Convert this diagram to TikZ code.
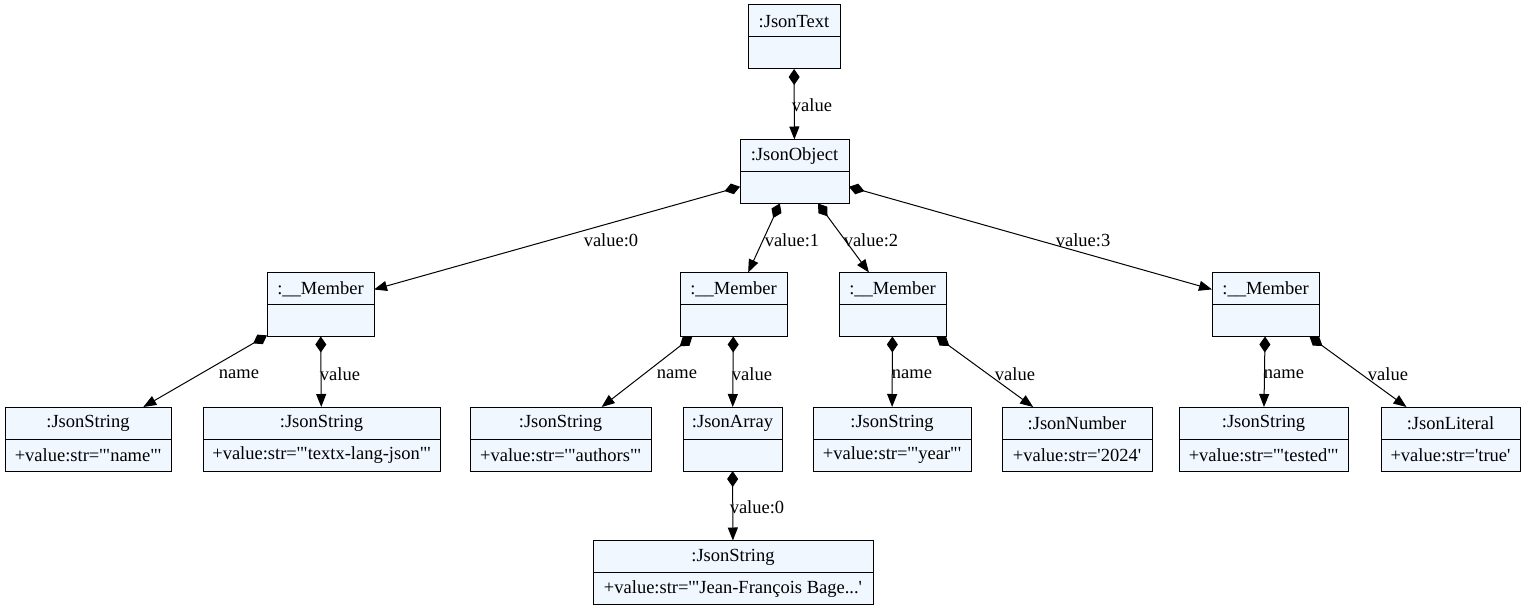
\documentclass[tikz,border=0pt]{standalone}
\usepackage{fontspec}
\setmainfont{Liberation Serif}
\newfontfamily\qfont[Ligatures=TeXOff]{Liberation Serif}
\usetikzlibrary{arrows.meta,calc}
\definecolor{boxfill}{HTML}{F0F7FF}
\tikzset{
  objbox/.style={draw=black, fill=boxfill, line width=1pt, minimum height=64pt, inner sep=0pt, outer sep=0pt},
  divline/.style={draw=black, line width=1pt},
  objtext/.style={inner sep=0pt, font=\rmfamily\fontsize{18.5}{22}\selectfont},
  lbl/.style={inner sep=1pt, font=\rmfamily\fontsize{18.5}{22}\selectfont},
  comp/.style={line width=1pt, {Diamond[length=16pt,width=11pt]}-{Triangle[length=13pt,width=10pt]}},
}
\newcommand\umlobj[6]{%
  \node[objbox, minimum width=#4pt] (#1) at (#2,#3) {};
  \draw[divline] (#1.west) -- (#1.east);
  \node[objtext] (#1-t) at ($(#1.north)+(0,16.5)$) {#5};
  \node[objtext] (#1-a) at ($(#1.south)-(0,15.5)$) {#6};
}
\newcommand\sq{{\qfont'}}
\newcommand\dq{{\qfont"}}
\begin{document}
\begin{tikzpicture}[x=1pt,y=-1pt]
\useasboundingbox (0,0) rectangle (1526,610);
\umlobj{txt}{794}{37}{92}{:JsonText}{}
\umlobj{obj}{794.5}{171.5}{109}{:JsonObject}{}
\umlobj{m0}{320.5}{304.5}{107}{:\_\_Member}{}
\umlobj{m1}{733.5}{304.5}{107}{:\_\_Member}{}
\umlobj{m2}{892.5}{304.5}{107}{:\_\_Member}{}
\umlobj{m3}{1265.5}{304.5}{107}{:\_\_Member}{}
\umlobj{s0}{88}{439}{166}{:JsonString}{+value:str=\sq\dq name\dq\sq}
\umlobj{s1}{321.5}{439}{237}{:JsonString}{+value:str=\sq\dq textx-lang-json\dq\sq}
\umlobj{s2}{560.5}{439}{181}{:JsonString}{+value:str=\sq\dq authors\dq\sq}
\umlobj{arr}{732.5}{439}{99}{:JsonArray}{}
\umlobj{s3}{892}{439}{158}{:JsonString}{+value:str=\sq\dq year\dq\sq}
\umlobj{num}{1077}{439}{150}{:JsonNumber}{+value:str=\sq 2024\sq}
\umlobj{s4}{1263.5}{439}{169}{:JsonString}{+value:str=\sq\dq tested\dq\sq}
\umlobj{lit}{1450.5}{439}{139}{:JsonLiteral}{+value:str=\sq true\sq}
\umlobj{s5}{733}{572.5}{280}{:JsonString}{+value:str=\sq\dq Jean-François Bage...\sq}

\draw[comp] (txt) -- (obj);
\draw[comp] (obj) -- (m0);
\draw[comp] (obj) -- (m1);
\draw[comp] (obj) -- (m2);
\draw[comp] (obj) -- (m3);
\draw[comp] (m0) -- (s0);
\draw[comp] (m0) -- (s1);
\draw[comp] (m1) -- (s2);
\draw[comp] (m1) -- (arr);
\draw[comp] (m2) -- (s3);
\draw[comp] (m2) -- (num);
\draw[comp] (m3) -- (s4);
\draw[comp] (m3) -- (lit);
\draw[comp] (arr) -- (s5);

\node[lbl] (l1) at (812,105) {value};
\node[lbl] (l2) at (611,240) {value:0};
\node[lbl] (l3) at (792,240) {value:1};
\node[lbl] (l4) at (871,240) {value:2};
\node[lbl] (l5) at (1083,240) {value:3};
\node[lbl] (l6) at (239,374) {name};
\node[lbl] (l7) at (340,374) {value};
\node[lbl] (l8) at (677,374) {name};
\node[lbl] (l9) at (752,374) {value};
\node[lbl] (l10) at (912,374) {name};
\node[lbl] (l11) at (1015,374) {value};
\node[lbl] (l12) at (1284,374) {name};
\node[lbl] (l13) at (1388,374) {value};
\node[lbl] (l14) at (757,507) {value:0};
\end{tikzpicture}
\end{document}
